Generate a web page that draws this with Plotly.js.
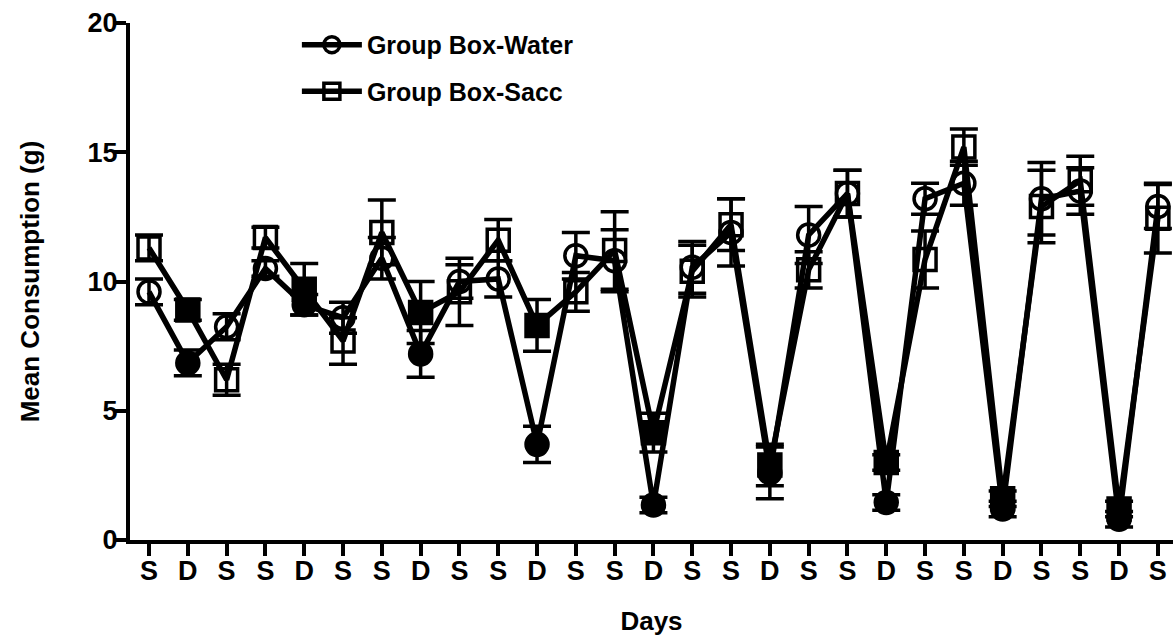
<!DOCTYPE html>
<html>
<head>
<meta charset="utf-8">
<script src="https://cdn.plot.ly/plotly-3.0.1.min.js"></script>
<style>html,body{margin:0;padding:0;background:#fff;}#chart{width:1173px;height:642px;}</style>
</head>
<body>
<div id="chart"></div>
<script>
const dayLabels = ['S','D','S','S','D','S','S','D','S','S','D','S','S','D','S','S','D','S','S','D','S','S','D','S','S','D','S'];
const dayNumbers = [1,2,3,4,5,6,7,8,9,10,11,12,13,14,15,16,17,18,19,20,21,22,23,24,25,26,27];
const waterMean = [9.6, 6.85, 8.25, 10.5, 9.1, 8.6, 10.9, 7.2, 10.0, 10.1, 3.7, 11.0, 10.8, 1.35, 10.55, 11.9, 2.6, 11.8, 13.4, 1.45, 13.2, 13.8, 1.2, 13.2, 13.5, 0.8, 12.9];
const waterSem  = [0.5, 0.5, 0.5, 0.3, 0.4, 0.6, 0.8, 0.9, 0.65, 0.7, 0.7, 0.9, 1.2, 0.3, 1.0, 1.3, 1.0, 1.1, 0.9, 0.3, 0.6, 0.85, 0.3, 1.4, 0.9, 0.3, 0.85];
const saccMean  = [11.3, 8.9, 6.2, 11.7, 9.7, 7.7, 11.9, 8.8, 9.6, 11.6, 8.3, 9.6, 11.2, 4.15, 10.4, 12.2, 2.9, 10.45, 13.4, 3.0, 10.85, 15.2, 1.6, 12.9, 13.9, 1.2, 12.45];
const saccSem   = [0.5, 0.4, 0.6, 0.4, 1.0, 0.9, 1.25, 1.2, 1.3, 0.8, 1.0, 0.75, 1.5, 0.75, 1.0, 1.0, 0.8, 0.7, 0.9, 0.3, 1.1, 0.7, 0.3, 1.4, 0.95, 0.3, 1.35];
const yTicks = [0, 5, 10, 15, 20];

const FONT = 'Liberation Sans, Arial, sans-serif';
function symbols(base) {
  return dayLabels.map(d => d === 'D' ? base : base + '-open');
}
function trace(name, y, err, base, group) {
  return {
    type: 'scatter', mode: 'lines+markers', name: name, legendgroup: group,
    x: dayNumbers, y: y,
    line: {color: '#000', width: 5.5},
    marker: {symbol: symbols(base), size: 22, color: '#000', line: {color: '#000', width: 3.5}},
    error_y: {type: 'data', array: err, visible: true, color: '#000', thickness: 3.5, width: 14},
    cliponaxis: false
  };
}
const data = [
  trace('Group Box-Water', waterMean, waterSem, 'circle', 'a'),
  trace('Group Box-Sacc', saccMean, saccSem, 'square', 'b')
];
const layout = {
  width: 1173, height: 642,
  margin: {l: 130, r: 0, t: 23, b: 102},
  paper_bgcolor: '#fff', plot_bgcolor: '#fff',
  font: {family: FONT, color: '#000', size: 26, weight: 700},
  showlegend: true,
  legend: {
    x: 0.16, y: 1.002, xanchor: 'left', yanchor: 'top',
    itemwidth: 60,
    bgcolor: 'rgba(0,0,0,0)', traceorder: 'grouped', tracegroupgap: 11,
    font: {family: FONT, size: 25, weight: 700, color: '#000'}
  },
  xaxis: {
    range: [dayNumbers[0] - 0.49, dayNumbers[0] + 26.39],
    tickmode: 'array', tickvals: dayNumbers, ticktext: dayLabels,
    ticks: 'outside', ticklen: 12, tickwidth: 4, tickcolor: '#000',
    ticklabelstandoff: -8,
    showline: true, linewidth: 4, linecolor: '#000', showgrid: false, zeroline: false,
    tickfont: {family: FONT, size: 27, weight: 700},
    title: {text: 'Days', font: {family: FONT, size: 26, weight: 700}, standoff: 27},
    automargin: false
  },
  yaxis: {
    range: [0, 20],
    tickmode: 'array', tickvals: yTicks,
    ticks: 'outside', ticklen: 12, tickwidth: 4, tickcolor: '#000',
    ticklabelstandoff: -9,
    showline: true, linewidth: 4, linecolor: '#000', showgrid: false, zeroline: false,
    tickfont: {family: FONT, size: 27, weight: 700},
    title: {text: 'Mean Consumption (g)', font: {family: FONT, size: 26, weight: 700}, standoff: 41},
    automargin: false
  }
};
Plotly.newPlot('chart', data, layout, {displayModeBar: false, staticPlot: true});
</script>
</body>
</html>
